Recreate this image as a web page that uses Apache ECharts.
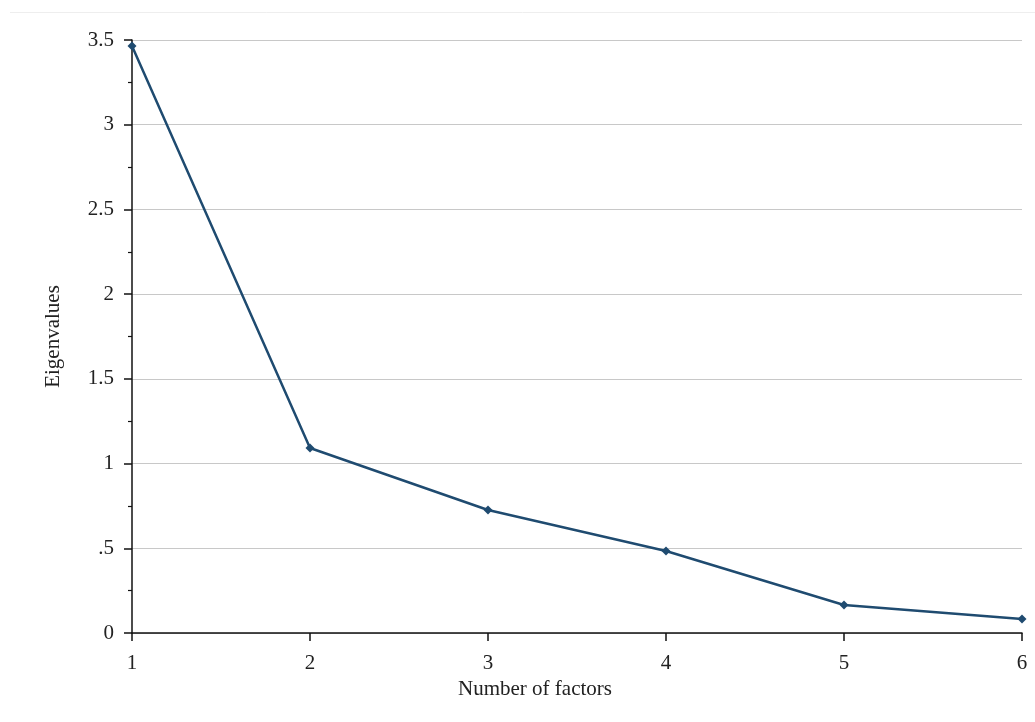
<!DOCTYPE html>
<html>
<head>
<meta charset="utf-8">
<script src="https://cdn.jsdelivr.net/npm/echarts@6/dist/echarts.min.js"></script>
<style>html,body{margin:0;padding:0;background:#fff;}#c{width:1035px;height:722px;}</style>
</head>
<body>
<div id="c"></div>
<script>
var factors = [1, 2, 3, 4, 5, 6];
var eigenvalues = [3.465, 1.092, 0.726, 0.484, 0.165, 0.083];
var yTickLabels = {0: '0', 0.5: '.5', 1: '1', 1.5: '1.5', 2: '2', 2.5: '2.5', 3: '3', 3.5: '3.5'};

var chart = echarts.init(document.getElementById('c'));
var font = '"Liberation Serif", "DejaVu Serif", serif';
chart.setOption({
  backgroundColor: '#fff',
  animation: false,
  graphic: [{
    type: 'line', shape: {x1: 10, y1: 12.5, x2: 1035, y2: 12.5},
    style: {stroke: '#eeeeee', lineWidth: 1}
  }],
  grid: {left: 132, right: 13, top: 40, bottom: 89},
  xAxis: {
    type: 'value', min: 1, max: 6, interval: 1,
    name: 'Number of factors', nameLocation: 'middle', nameGap: 46,
    nameTextStyle: {fontFamily: font, fontSize: 21, color: '#222', padding: [0, 84, 0, 0]},
    axisLine: {show: true, onZero: false, lineStyle: {color: '#111', width: 1.5}},
    axisTick: {show: true, length: 8, lineStyle: {color: '#111', width: 1.5}},
    axisLabel: {fontFamily: font, fontSize: 21, color: '#222', margin: 20},
    splitLine: {show: false}
  },
  yAxis: {
    type: 'value', min: 0, max: 3.5, interval: 0.5,
    name: 'Eigenvalues', nameLocation: 'middle', nameGap: 68, nameRotate: 90,
    nameTextStyle: {fontFamily: font, fontSize: 21, color: '#222'},
    axisLine: {show: true, lineStyle: {color: '#111', width: 1.5}},
    axisTick: {show: true, length: 8, lineStyle: {color: '#111', width: 1.5}},
    minorTick: {show: true, splitNumber: 2, length: 4, lineStyle: {color: '#111', width: 1.2}},
    axisLabel: {fontFamily: font, fontSize: 21, color: '#222', margin: 18,
      formatter: function (v) { return yTickLabels[v] !== undefined ? yTickLabels[v] : String(v); }},
    splitLine: {show: true, lineStyle: {color: '#c8c8c8', width: 1}}
  },
  series: [{
    type: 'line',
    data: factors.map(function (f, i) { return [f, eigenvalues[i]]; }),
    symbol: 'diamond', symbolSize: 9,
    lineStyle: {color: '#1f4b70', width: 2.5},
    itemStyle: {color: '#1f4b70'}
  }]
});
</script>
</body>
</html>
